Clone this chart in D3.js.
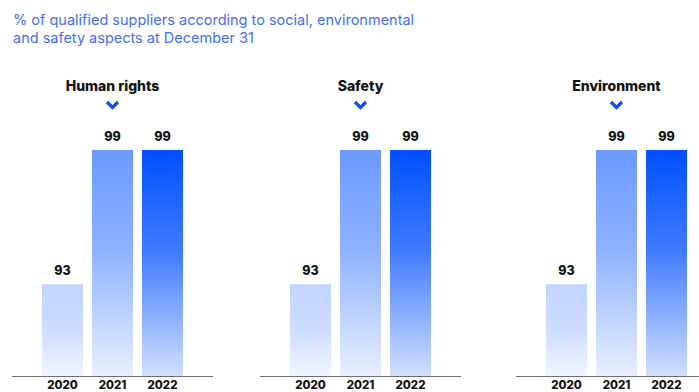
<!DOCTYPE html>
<html>
<head>
<meta charset="utf-8">
<script src="https://cdn.jsdelivr.net/npm/d3@7"></script>
<style>
  html, body { margin: 0; padding: 0; background: #fff; }
  svg { display: block; }
</style>
</head>
<body>
<svg id="chart" width="699" height="392"></svg>
<script>
// ---- data ----
const titleLines = [
  "% of qualified suppliers according to social, environmental",
  "and safety aspects at December 31"
];
const categories = ["Human rights", "Safety", "Environment"];
const years = ["2020", "2021", "2022"];
const humanRightsValues = [93, 99, 99];
const safetyValues = [93, 99, 99];
const environmentValues = [93, 99, 99];
const seriesValues = [humanRightsValues, safetyValues, environmentValues];

// ---- layout ----
const W = 699, H = 392;
const panelLeft = [12, 260, 516];
const panelW = 201;
const baseY = 376, topY = 150;
const yearColors = ["#c2d4ff", "#6b99ff", "#0050ff"];
const boldFont = "Inter, 'Liberation Sans', Arial, sans-serif";

const svg = d3.select("#chart");

// gradients
const defs = svg.append("defs");
yearColors.forEach((c, i) => {
  const g = defs.append("linearGradient")
    .attr("id", "grad" + i)
    .attr("x1", 0).attr("y1", 0).attr("x2", 0).attr("y2", 1);
  g.append("stop").attr("offset", "0%").attr("stop-color", c).attr("stop-opacity", 1);
  g.append("stop").attr("offset", "45%").attr("stop-color", c).attr("stop-opacity", i === 0 ? 0.85 : 0.75);
  g.append("stop").attr("offset", "100%").attr("stop-color", c).attr("stop-opacity", i === 0 ? 0.25 : (i === 1 ? 0.15 : 0.18));
});

// title
svg.append("g").selectAll("text").data(titleLines).join("text")
  .attr("x", 13)
  .attr("y", (d, i) => 25 + i * 18)
  .attr("fill", "#3f70f8")
  .attr("font-family", "Inter, 'Open Sans', sans-serif")
  .attr("font-size", 14.5)
  .text(d => d);

const y = d3.scaleLinear().domain([88.9, 99]).range([baseY, topY]);

categories.forEach((cat, pi) => {
  const x0 = panelLeft[pi];
  const cx = x0 + panelW / 2;
  const x = d3.scaleBand().domain(years)
    .range([cx - 75, cx + 75])
    .paddingInner(0.18).paddingOuter(0.09);
  const g = svg.append("g");
  const vals = seriesValues[pi];

  // panel title
  g.append("text")
    .attr("x", cx).attr("y", 91)
    .attr("text-anchor", "middle")
    .attr("font-family", boldFont)
    .attr("font-weight", 800)
    .attr("font-size", 14)
    .attr("fill", "#111")
    .text(cat);

  // chevron
  g.append("path")
    .attr("d", `M${cx - 5.5},${102} L${cx},${107.5} L${cx + 5.5},${102}`)
    .attr("fill", "none")
    .attr("stroke", "#0050ff")
    .attr("stroke-width", 3.2)
    .attr("stroke-linecap", "butt")
    .attr("stroke-linejoin", "miter");

  // bars
  g.selectAll("rect.bar").data(years).join("rect")
    .attr("class", "bar")
    .attr("x", d => x(d))
    .attr("width", x.bandwidth())
    .attr("y", (d, i) => y(vals[i]))
    .attr("height", (d, i) => baseY - y(vals[i]))
    .attr("fill", (d, i) => `url(#grad${i})`);

  // value labels
  g.selectAll("text.val").data(years).join("text")
    .attr("class", "val")
    .attr("x", d => x(d) + x.bandwidth() / 2)
    .attr("y", (d, i) => y(vals[i]) - 9)
    .attr("text-anchor", "middle")
    .attr("font-family", boldFont)
    .attr("font-weight", 800)
    .attr("font-size", 12.5)
    .attr("fill", "#111")
    .text((d, i) => vals[i]);

  // axis
  const axis = d3.axisBottom(x).tickSize(0).tickPadding(0);
  const ag = g.append("g").attr("transform", `translate(0,${baseY})`).call(axis);
  ag.select(".domain").remove();
  ag.append("line")
    .attr("x1", x0).attr("x2", x0 + panelW)
    .attr("y1", 0.5).attr("y2", 0.5)
    .attr("stroke", "#6e6e6e").attr("stroke-width", 1);
  ag.selectAll(".tick text")
    .attr("y", 13)
    .attr("dy", 0)
    .attr("font-family", boldFont)
    .attr("font-weight", 800)
    .attr("font-size", 11.5)
    .attr("fill", "#111");
});
</script>
</body>
</html>
